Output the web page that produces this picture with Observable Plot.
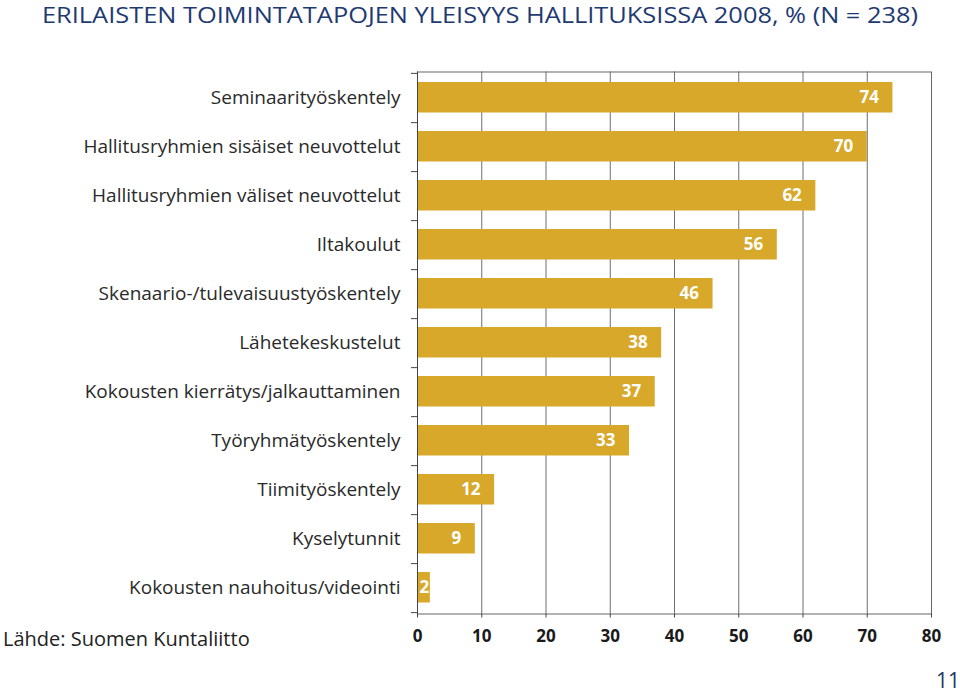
<!DOCTYPE html>
<html>
<head>
<meta charset="utf-8">
<script src="https://cdn.jsdelivr.net/npm/d3@7"></script>
<script src="https://cdn.jsdelivr.net/npm/@observablehq/plot@0.6"></script>
<style>
  html, body { margin: 0; padding: 0; background: #fff; }
  body { width: 960px; height: 696px; position: relative; overflow: hidden; font-family: "Open Sans", "Noto Sans", sans-serif; }
  #title { position: absolute; left: 42px; top: 0px; font-size: 22px; line-height: 28px; color: #1f3a72; white-space: nowrap; transform-origin: 0 0; }
  #chart { position: absolute; left: 0; top: 40px; }
  #source { position: absolute; left: 3px; top: 625px; font-size: 20px; color: #222; white-space: nowrap; }
  #page { position: absolute; left: 936px; top: 666px; font-size: 21px; color: #1f3560; }
</style>
</head>
<body>
<div id="title">ERILAISTEN TOIMINTATAPOJEN YLEISYYS HALLITUKSISSA 2008, % (N = 238)</div>
<div id="chart"></div>
<div id="source">Lähde: Suomen Kuntaliitto</div>
<div id="page">11</div>
<script>
const categories = [
  "Seminaarityöskentely",
  "Hallitusryhmien sisäiset neuvottelut",
  "Hallitusryhmien väliset neuvottelut",
  "Iltakoulut",
  "Skenaario-/tulevaisuustyöskentely",
  "Lähetekeskustelut",
  "Kokousten kierrätys/jalkauttaminen",
  "Työryhmätyöskentely",
  "Tiimityöskentely",
  "Kyselytunnit",
  "Kokousten nauhoitus/videointi"
];
const values = [74, 70, 62, 56, 46, 38, 37, 33, 12, 9, 2];
const xTicks = [0, 10, 20, 30, 40, 50, 60, 70, 80];
const gridTicks = [10, 20, 30, 40, 50, 60, 70];

const data = categories.map((c, i) => ({category: c, value: values[i]}));

const W = 960, H = 620, mT = 31.5, mB = 46.5, mL = 417, mR = 29;
const step = (H - mT - mB) / categories.length;

const chart = Plot.plot({
  width: W,
  height: H,
  marginTop: mT,
  marginBottom: mB,
  marginLeft: mL,
  marginRight: mR,
  style: {fontFamily: "'Open Sans', 'Noto Sans', sans-serif", background: "#fff"},
  x: {domain: [0, 80], label: null, axis: null},
  y: {domain: categories, padding: 0, label: null, axis: null},
  marks: [
    Plot.ruleX(gridTicks, {stroke: "#6e6e6e", strokeWidth: 1}),
    Plot.frame({stroke: "#666", strokeWidth: 1}),
    Plot.barX(data, {y: "category", x: "value", fill: "#d8a82a", insetTop: 9, insetBottom: 9.5}),
    Plot.ruleX([0], {stroke: "#444"}),
    Plot.axisY({tickSize: 6, tickFormat: () => "", dy: step / 2, stroke: "#444"}),
    Plot.axisY({ticks: [categories[0]], tickSize: 6, tickFormat: () => "", dy: -step / 2, stroke: "#444"}),
    Plot.axisX({ticks: xTicks, tickSize: 4, tickPadding: 12, fontSize: 17, fontWeight: "bold", stroke: "#444", fill: "#1a1a1a", label: null}),
    Plot.axisY({tickSize: 0, tickPadding: 17, fontSize: 19, fill: "#2a2a2a", label: null}),
    Plot.text(data.filter(d => d.value >= 5), {y: "category", x: "value", text: d => String(d.value), textAnchor: "end", dx: -14, fill: "#fff", fontWeight: "bold", fontSize: 17}),
    Plot.text(data.filter(d => d.value < 5), {y: "category", x: "value", text: d => String(d.value), textAnchor: "end", dx: -1, fill: "#fff", fontWeight: "bold", fontSize: 17})
  ]
});
document.getElementById("chart").appendChild(chart);

const t = document.getElementById("title");
const w = t.getBoundingClientRect().width;
t.style.transform = `scaleX(${876 / w})`;
</script>
</body>
</html>
